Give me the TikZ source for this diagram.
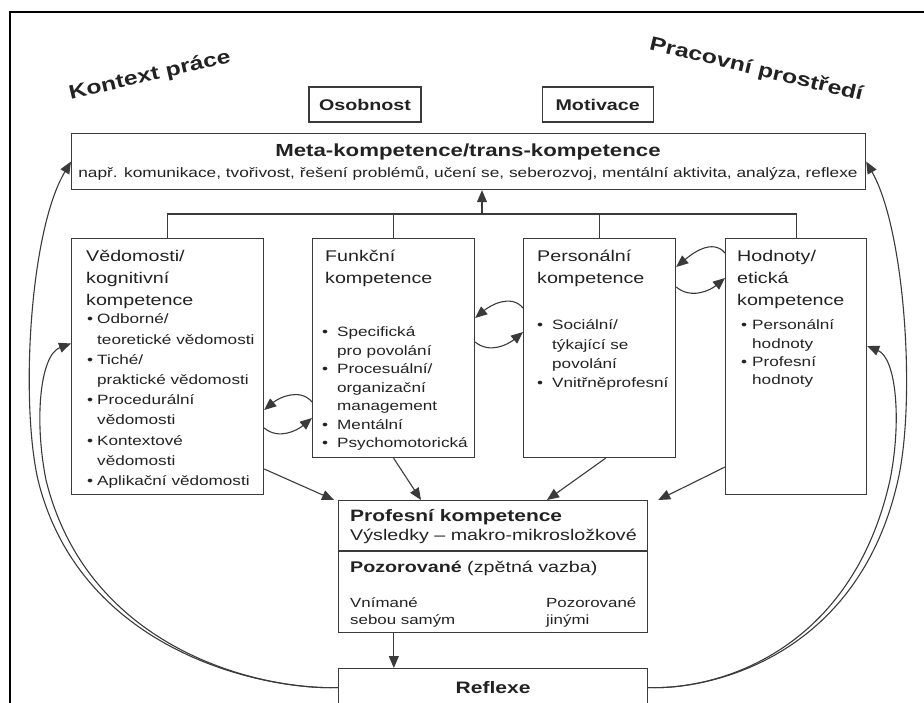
\documentclass[tikz,border=0pt]{standalone}
\usepackage{fontspec}
\setmainfont{Liberation Sans}[FakeStretch=1.27]
\usepackage{tikz}
\usetikzlibrary{arrows.meta,positioning,calc}

\definecolor{linec}{HTML}{3A3A3A}
\definecolor{inkc}{HTML}{222222}

\newcommand{\titlefont}{\fontsize{15.5}{22}\selectfont}
\newcommand{\listfont}{\fontsize{13.5}{20.2}\selectfont}

\tikzset{
	box/.style={draw=linec, line width=1.2pt, inner sep=0pt, anchor=north west},
	sbox/.style={draw=linec, line width=1.2pt, inner sep=0pt, minimum width=112pt, minimum height=35pt, text=inkc, font=\fontsize{15.5}{18}\selectfont\bfseries},
	txt/.style={inner sep=0pt, anchor=base west, text=inkc, font=\titlefont},
	conn/.style={draw=linec, line width=1.1pt},
	arr/.style={conn, -{Triangle[length=12pt,width=10pt]}},
}

\begin{document}
\begin{tikzpicture}[x=1pt, y=-1pt]
				\useasboundingbox (0,0) rectangle (924,703);
				% Frame
				\draw[line width=2pt] (10,712) -- (10,12) -- (932,12);
				
				% Context
				\node[txt, anchor=base, rotate=13, font=\fontsize{19.5}{22}\selectfont\bfseries] (Kontext) at (151,81) {Kontext práce};
				\node[txt, anchor=base, rotate=-13.5, font=\fontsize{19.5}{22}\selectfont\bfseries] (Prostredi) at (755,75) {Pracovní prostředí};
				
				% Top
				\node[sbox] (Osobnost) at (365,104.5) {Osobnost};
				\node[sbox, minimum width=111pt, right=120pt of Osobnost] (Motivace) {Motivace};
				\node[box, minimum width=794pt, minimum height=56pt] (Meta) at (71,133) {};
				\node[txt, anchor=base, font=\fontsize{17.5}{20}\selectfont\bfseries] (MetaTitle) at (468,157) {Meta-kompetence/trans-kompetence};
				\node[txt, anchor=base, font=\fontsize{13.6}{16}\selectfont] (MetaText) at (468,178) {např. komunikace, tvořivost, řešení problémů, učení se, seberozvoj, mentální aktivita, analýza, reflexe};
				
				% Competences
				\node[box, minimum width=192pt, minimum height=256pt] (Vedomosti) at (71,238) {};
				\node[box, minimum width=162pt, minimum height=219pt] (Funkcni) at (312,238) {};
				\node[box, minimum width=152pt, minimum height=219pt] (Personalni) at (523,238) {};
				\node[box, minimum width=141pt, minimum height=256pt] (Hodnoty) at (725,238) {};
				
				\node[txt] (VedTitle) at (86,262) {\begin{tabular}[t]{@{}l@{}}Vědomosti/\\kognitivní\\kompetence\end{tabular}};
				\node[txt] (FunTitle) at (325,262) {\begin{tabular}[t]{@{}l@{}}Funkční\\kompetence\end{tabular}};
				\node[txt] (PerTitle) at (537,262) {\begin{tabular}[t]{@{}l@{}}Personální\\kompetence\end{tabular}};
				\node[txt] (HodTitle) at (737,262) {\begin{tabular}[t]{@{}l@{}}Hodnoty/\\etická\\kompetence\end{tabular}};
				
				\node[txt, font=\listfont] (VedList) at (87,324) {\begin{tabular}[t]{@{}p{10pt}@{}l@{}}
					\textbullet & Odborné/\\ & teoretické vědomosti\\
					\textbullet & Tiché/\\ & praktické vědomosti\\
					\textbullet & Procedurální\\ & vědomosti\\
					\textbullet & Kontextové\\ & vědomosti\\
					\textbullet & Aplikační vědomosti\end{tabular}};
				\node[txt, font=\fontsize{13.5}{18.5}\selectfont] (FunList) at (322,337) {\begin{tabular}[t]{@{}p{15pt}@{}l@{}}
					\textbullet & Specifická\\ & pro povolání\\
					\textbullet & Procesuální/\\ & organizační\\ & management\\
					\textbullet & Mentální\\
					\textbullet & Psychomotorická\end{tabular}};
				\node[txt, font=\fontsize{13.5}{19.3}\selectfont] (PerList) at (537,330) {\begin{tabular}[t]{@{}p{15pt}@{}l@{}}
					\textbullet & Sociální/\\ & týkající se\\ & povolání\\
					\textbullet & Vnitřněprofesní\end{tabular}};
				\node[txt, font=\fontsize{13.5}{18.3}\selectfont] (HodList) at (741,330) {\begin{tabular}[t]{@{}p{11pt}@{}l@{}}
					\textbullet & Personální\\ & hodnoty\\
					\textbullet & Profesní\\ & hodnoty\end{tabular}};
				
				% Outcome
				\node[box, minimum width=309pt, minimum height=132pt] (Profesni) at (338,500) {};
				\draw[conn] (Profesni.west |- 0,551) -- (Profesni.east |- 0,551);
				\node[txt, font=\fontsize{16.5}{19}\selectfont\bfseries] (ProfTitle) at (350,521) {Profesní kompetence};
				\node[txt] (ProfText) at (350,540) {Výsledky – makro-mikrosložkové};
				\node[txt] (Pozor) at (350,572) {\textbf{Pozorované} (zpětná vazba)};
				\node[txt, font=\fontsize{13.3}{17}\selectfont] (Sebou) at (350,607) {\begin{tabular}[t]{@{}l@{}}Vnímané\\sebou samým\end{tabular}};
				\node[txt, font=\fontsize{13.3}{17}\selectfont] (Jinymi) at (546,607) {\begin{tabular}[t]{@{}l@{}}Pozorované\\jinými\end{tabular}};
				\node[sbox, anchor=north west, minimum width=309pt, minimum height=38pt, font=\fontsize{16.6}{20}\selectfont\bfseries] (Reflexe) at (338,668) {Reflexe};
				
				% Tree
				\coordinate (Hub) at (482,214);
				\draw[conn] (Vedomosti.north) |- (Hub) -| (Hodnoty.north);
				\draw[conn] (Funkcni.north) -- (Funkcni.north |- Hub);
				\draw[conn] (Personalni.north) -- (Personalni.north |- Hub);
				\draw[arr] (Hub) -- (Hub |- Meta.south);
				
				% Exchange
				\draw[arr] (Funkcni.west |- 0,402) to[out=130,in=40] (Vedomosti.east |- 0,410);
				\draw[arr] (Vedomosti.east |- 0,428) to[out=-40,in=-140] (Funkcni.west |- 0,418);
				\draw[arr] (Personalni.west |- 0,308) to[out=130,in=40] (Funkcni.east |- 0,318);
				\draw[arr] (Funkcni.east |- 0,342) to[out=-40,in=-140] (Personalni.west |- 0,332);
				\draw[arr] (Hodnoty.west |- 0,253) to[out=130,in=40] (Personalni.east |- 0,267);
				\draw[arr] (Personalni.east |- 0,287) to[out=-40,in=-140] (Hodnoty.west |- 0,278);
				
				% Emission
				\draw[arr] (Vedomosti.east |- 0,469) -- ([xshift=-4pt]Profesni.north west);
				\draw[arr] (Funkcni.south) -- ($(Profesni.north west)+(83,0)$);
				\draw[arr] ([xshift=6pt]Personalni.south) -- ($(Profesni.north west)+(209,0)$);
				\draw[arr] (Hodnoty.west |- 0,467) -- ($(Profesni.north east)+(10,0)$);
				\draw[arr] ($(Profesni.south west)!0.18!(Profesni.south east)$) -- ($(Reflexe.north west)!0.18!(Reflexe.north east)$);
				
				% Feedback
				\draw[arr] (Reflexe.west) .. controls (260,690) and (80,650) .. (38,480) .. controls (20,400) and (30,230) .. (Meta.west);
				\draw[arr] (Reflexe.west) .. controls (260,690) and (88,650) .. (46,480) .. controls (34,420) and (40,355) .. ($(Vedomosti.north west)!0.41!(Vedomosti.south west)$);
				\draw[arr] (Reflexe.east) .. controls (720,690) and (860,650) .. (898,480) .. controls (916,400) and (905,230) .. (Meta.east);
				\draw[arr] (Reflexe.east) .. controls (720,690) and (852,650) .. (890,480) .. controls (902,420) and (896,358) .. ($(Hodnoty.north east)!0.42!(Hodnoty.south east)$);
			\end{tikzpicture}
\end{document}
